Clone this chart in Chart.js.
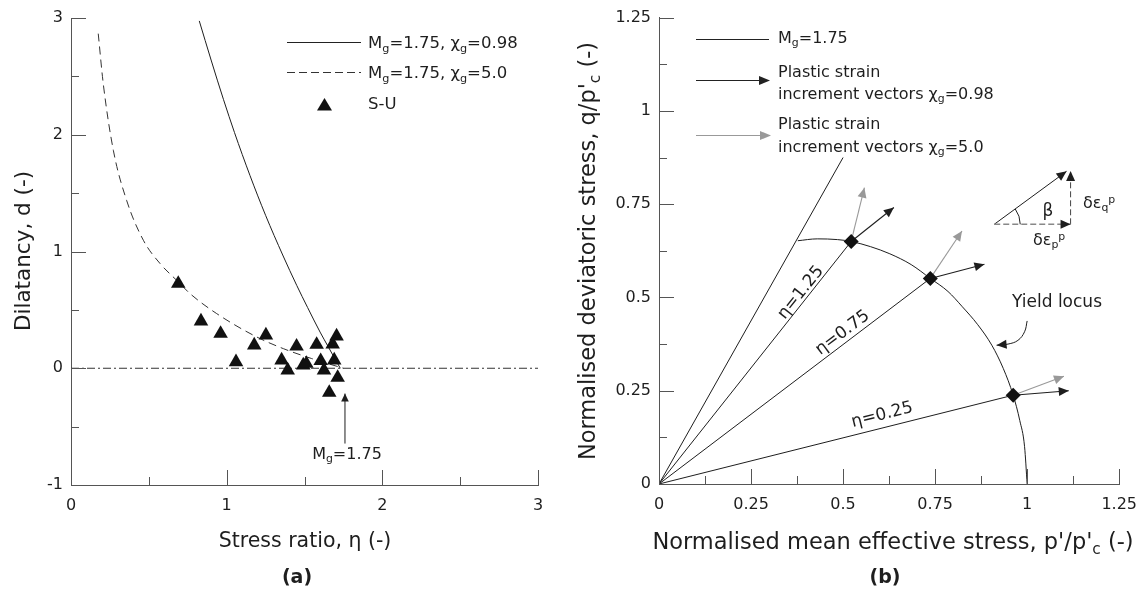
<!DOCTYPE html>
<html lang="en"><head><meta charset="utf-8"><title>Dilatancy · yield locus</title>
<script src="https://cdn.jsdelivr.net/npm/chart.js@4.4.1/dist/chart.umd.min.js"></script>
<style>
  * { box-sizing: border-box; }
  body { margin: 0; background: #fff; }
  #fig {
    position: relative; width: 1148px; height: 590px; overflow: hidden; background: #fff;
    font-family: "DejaVu Sans", Verdana, sans-serif; color: #1e1e1e;
  }
  canvas { position: absolute; top: 0; }
  #ca { left: 0; }
  #cb { left: 574px; }
  svg { position: absolute; left: 0; top: 0; }
  .t { position: absolute; white-space: nowrap; line-height: 1; font-size: 16px; transform: translateY(-50%); }
  .c { transform: translate(-50%, -50%); }
  .title { font-size: 20.5px; }
  .title-b { font-size: 22.5px; }
  .tag { font-size: 19px; font-weight: bold; }
  .eta { font-size: 17px; }
  sub, sup { font-size: 0.68em; vertical-align: baseline; position: relative; line-height: 0; }
  sub { top: 0.32em; }
  sup { top: -0.45em; }
</style></head>
<body>
<div id="fig">
  <canvas id="ca" width="574" height="590"></canvas>
  <canvas id="cb" width="574" height="590"></canvas>

  <!-- legend keys -->
  <svg width="1148" height="590">
    <line x1="287" y1="42.5" x2="361" y2="42.5" stroke="#222" stroke-width="1"/>
    <line x1="287" y1="72.5" x2="361" y2="72.5" stroke="#333" stroke-width="1" stroke-dasharray="8 4"/>
    <polygon points="324.5,98 332,110.5 317,110.5" fill="#111"/>
    <line x1="696" y1="39.5" x2="769" y2="39.5" stroke="#222" stroke-width="1"/>
    <line x1="696" y1="80.5" x2="760" y2="80.5" stroke="#222" stroke-width="1.2"/>
    <polygon points="770,80.5 759,76 759,85" fill="#222"/>
    <line x1="696" y1="135.5" x2="760" y2="135.5" stroke="#999" stroke-width="1.2"/>
    <polygon points="771,135.5 760,131 760,140" fill="#999"/>
  </svg>

  <!-- (a) -->
  <div class="t" style="left:368px;top:43px;font-size:16.5px">M<sub>g</sub>=1.75, χ<sub>g</sub>=0.98</div>
  <div class="t" style="left:368px;top:73px;font-size:16.5px">M<sub>g</sub>=1.75, χ<sub>g</sub>=5.0</div>
  <div class="t" style="left:368px;top:104px;font-size:16.5px">S-U</div>
  <div class="t c" style="left:347px;top:454px">M<sub>g</sub>=1.75</div>
  <div class="t c title" style="left:305px;top:540px">Stress ratio, η (-)</div>
  <div class="t title" style="left:23px;top:251px;font-size:21.5px;transform:translate(-50%,-50%) rotate(-90deg)">Dilatancy, d (-)</div>
  <div class="t c tag" style="left:297px;top:576px">(a)</div>

  <!-- (b) -->
  <div class="t" style="left:778px;top:38px">M<sub>g</sub>=1.75</div>
  <div class="t" style="left:778px;top:72px">Plastic strain</div>
  <div class="t" style="left:778px;top:94px">increment vectors χ<sub>g</sub>=0.98</div>
  <div class="t" style="left:778px;top:124px">Plastic strain</div>
  <div class="t" style="left:778px;top:147px">increment vectors χ<sub>g</sub>=5.0</div>
  <div class="t eta" style="left:800px;top:292px;transform:translate(-50%,-50%) rotate(-51.3deg)">η=1.25</div>
  <div class="t eta" style="left:842px;top:332px;transform:translate(-50%,-50%) rotate(-36.9deg)">η=0.75</div>
  <div class="t eta" style="left:882px;top:414px;transform:translate(-50%,-50%) rotate(-14deg)">η=0.25</div>
  <div class="t c" style="left:1057px;top:301px;font-size:17px">Yield locus</div>
  <div class="t c" style="left:1048px;top:210px;font-size:17px">β</div>
  <div class="t" style="left:1083px;top:203px">δε<sub>q</sub><sup>p</sup></div>
  <div class="t" style="left:1033px;top:240px">δε<sub>p</sub><sup>p</sup></div>
  <div class="t c title-b" style="left:893px;top:541px">Normalised mean effective stress, p'/p'<sub>c</sub> (-)</div>
  <div class="t title-b" style="left:587px;top:251px;transform:translate(-50%,-50%) rotate(-90deg)">Normalised deviatoric stress, q/p'<sub>c</sub> (-)</div>
  <div class="t c tag" style="left:885px;top:576px">(b)</div>
</div>

<script>
// ---- (a) dilatancy against stress ratio ----
const aXTicks = ['0', '1', '2', '3'];
const aYTicks = ['-1', '0', '1', '2', '3'];

const etaChi098 = [0.824, 0.90, 0.98, 1.05, 1.15, 1.25, 1.36, 1.45, 1.52, 1.60, 1.65, 1.70, 1.73];
const dChi098   = [2.975, 2.64, 2.30, 2.02, 1.65, 1.31, 0.97, 0.71, 0.52, 0.31, 0.19, 0.07, 0.00];

const etaChi50 = [0.175, 0.207, 0.272, 0.357, 0.465, 0.572, 0.689, 0.764, 0.936, 1.193, 1.364, 1.546, 1.75];
const dChi50   = [2.866, 2.44, 1.867, 1.439, 1.096, 0.897, 0.74, 0.64, 0.468, 0.268, 0.168, 0.083, 0.00];

// S-U test points
const etaSU = [0.689, 0.835, 0.961, 1.060, 1.177, 1.252, 1.353, 1.392, 1.449, 1.492, 1.512,
               1.578, 1.604, 1.625, 1.681, 1.706, 1.691, 1.713, 1.659];
const dSU   = [0.725, 0.403, 0.297, 0.054, 0.197, 0.283, 0.069, -0.017, 0.188, 0.026, 0.04,
               0.203, 0.063, -0.017, 0.206, 0.274, 0.069, -0.080, -0.208];

const zeroEta = [0, 3], zeroD = [0, 0];
const mgEta = [1.76, 1.76], mgD = [-0.645, -0.217];

// ---- (b) stress path, yield locus, strain increment vectors ----
const bTicks = ['0', '0.25', '0.5', '0.75', '1', '1.25'];

const mLineP = [0, 0.5], mLineQ = [0, 0.875];
const stateP = [0.522, 0.737, 0.962];          // η = 1.25, 0.75, 0.25
const stateQ = [0.650, 0.551, 0.238];

const locusP = [0.377, 0.43, 0.485, 0.522, 0.575, 0.627, 0.685, 0.737, 0.785, 0.824, 0.865, 0.904, 0.935, 0.962, 0.98, 0.993, 1.0];
const locusQ = [0.652, 0.657, 0.655, 0.650, 0.636, 0.617, 0.588, 0.551, 0.516, 0.475, 0.428, 0.372, 0.31, 0.238, 0.17, 0.10, 0.0];

const tipP098 = [0.638, 0.884, 1.113], tipQ098 = [0.741, 0.589, 0.250];
const tipP50  = [0.558, 0.823, 1.100], tipQ50  = [0.794, 0.678, 0.289];

const pointerP = [1.0, 0.993, 0.975, 0.948, 0.917];
const pointerQ = [0.437, 0.408, 0.385, 0.375, 0.372];

// β sketch: start, horizontal corner, top
const betaP = [0.9106, 1.118, 1.118, 1.107];
const betaQ = [0.696, 0.696, 0.839, 0.838];

const INK = '#1e1e1e', GREY = '#999', AXIS = '#555';
const FONT = { family: "'DejaVu Sans', Verdana, sans-serif", size: 16 };

const pts = (xs, ys) => xs.map((x, i) => ({ x, y: ys[i] }));
const line = (data, extra = {}) => ({
  data, showLine: true, pointRadius: 0, borderColor: INK, borderWidth: 1, fill: false, ...extra,
});

// Ticks point inward; the minor ones sit halfway between the labelled ones.
const inwardTicks = {
  id: 'inwardTicks',
  afterDraw(chart) {
    const { ctx, chartArea: a, scales: { x, y } } = chart;
    const marks = s => {
      const v = s.ticks.map(t => t.value);
      return [...v.map(t => [t, 15]), ...v.slice(1).map((t, i) => [(t + v[i]) / 2, 8])];
    };
    ctx.save();
    ctx.strokeStyle = AXIS;
    ctx.lineWidth = 1;
    ctx.beginPath();
    for (const [v, len] of marks(x)) {
      const px = Math.round(x.getPixelForValue(v)) + 0.5;
      ctx.moveTo(px, a.bottom); ctx.lineTo(px, a.bottom - len);
    }
    for (const [v, len] of marks(y)) {
      const py = Math.round(y.getPixelForValue(v)) + 0.5;
      ctx.moveTo(a.left, py); ctx.lineTo(a.left + len, py);
    }
    ctx.stroke();
    ctx.restore();
  },
};

// Filled head on the last point of any dataset that asks for one.
const arrowHeads = {
  id: 'arrowHeads',
  afterDatasetsDraw(chart) {
    const ctx = chart.ctx;
    chart.data.datasets.forEach((ds, i) => {
      if (!ds.arrow) return;
      const el = chart.getDatasetMeta(i).data;
      const tip = el[el.length - 1], from = el[el.length - 2];
      const [len, half] = ds.arrow;
      ctx.save();
      ctx.translate(tip.x, tip.y);
      ctx.rotate(Math.atan2(tip.y - from.y, tip.x - from.x));
      ctx.fillStyle = ds.headColor || ds.borderColor;
      ctx.beginPath();
      ctx.moveTo(0, 0); ctx.lineTo(-len, -half); ctx.lineTo(-len, half);
      ctx.closePath(); ctx.fill();
      ctx.restore();
    });
  },
};

// Angle mark for β between the horizontal and the increment vector.
const betaArc = {
  id: 'betaArc',
  afterDatasetsDraw(chart) {
    if (chart.canvas.id !== 'cb') return;
    const { ctx, scales: { x, y } } = chart;
    const ox = x.getPixelForValue(betaP[0]), oy = y.getPixelForValue(betaQ[0]);
    const ang = Math.atan2(y.getPixelForValue(betaQ[3]) - oy, x.getPixelForValue(betaP[3]) - ox);
    ctx.save();
    ctx.strokeStyle = INK; ctx.lineWidth = 1;
    ctx.beginPath(); ctx.arc(ox, oy, 26, ang, 0); ctx.stroke();
    ctx.restore();
  },
};

function axes(xMin, xMax, xStep, xLabels, yMin, yMax, yStep, yLabels, yWidth, xHeight) {
  const common = {
    type: 'linear',
    grid: { display: false, drawTicks: false },
    border: { display: true, color: AXIS, width: 1 },
  };
  return {
    x: {
      ...common, min: xMin, max: xMax,
      ticks: { stepSize: xStep, color: INK, font: FONT, padding: 11, maxRotation: 0,
               callback: (v, i) => xLabels[i] },
      afterFit: s => { s.height = xHeight; },
    },
    y: {
      ...common, min: yMin, max: yMax,
      ticks: { stepSize: yStep, color: INK, font: FONT, padding: 8,
               callback: (v, i) => yLabels[i] },
      afterFit: s => { s.width = yWidth; },
    },
  };
}

const baseOptions = {
  responsive: false, animation: false, devicePixelRatio: 1,
  plugins: { legend: { display: false }, tooltip: { enabled: false } },
};

new Chart(document.getElementById('ca'), {
  type: 'scatter',
  data: {
    datasets: [
      { data: pts(etaSU, dSU), pointStyle: 'triangle', pointRadius: 8.4, borderWidth: 0,
        backgroundColor: '#111', borderColor: '#111' },
      line(pts(mgEta, mgD), { arrow: [8, 3.8] }),
      line(pts(etaChi098, dChi098), { cubicInterpolationMode: 'monotone' }),
      line(pts(etaChi50, dChi50), { cubicInterpolationMode: 'monotone', borderColor: '#333', borderDash: [8, 5] }),
      line(pts(zeroEta, zeroD), { borderColor: '#333', borderDash: [8, 3, 2, 3] }),
    ],
  },
  options: {
    ...baseOptions,
    layout: { padding: { left: 0, right: 36, top: 18, bottom: 0 } },
    scales: axes(0, 3, 1, aXTicks, -1, 3, 1, aYTicks, 71, 105),
  },
  plugins: [inwardTicks, arrowHeads],
});

const vectors = (tp, tq, color) => stateP.map((p, i) =>
  line(pts([p, tp[i]], [stateQ[i], tq[i]]), { borderColor: color, arrow: [10, 4.5], borderWidth: 1.1 }));

new Chart(document.getElementById('cb'), {
  type: 'scatter',
  data: {
    datasets: [
      { data: pts(stateP, stateQ), pointStyle: 'rectRot', pointRadius: 7.5, borderWidth: 0,
        backgroundColor: '#111', borderColor: '#111' },
      ...vectors(tipP098, tipQ098, INK),
      ...vectors(tipP50, tipQ50, GREY),
      line(pts(mLineP, mLineQ)),
      ...stateP.map((p, i) => line(pts([0, p], [0, stateQ[i]]))),
      line(pts(locusP, locusQ), { cubicInterpolationMode: 'monotone' }),
      line(pts(pointerP, pointerQ), { tension: 0.4, arrow: [10, 4.5] }),
      line(pts(betaP.slice(0, 2), betaQ.slice(0, 2)), { borderColor: '#888', borderDash: [6, 3], borderWidth: 1.5, arrow: [10, 4.5], headColor: INK }),
      line(pts(betaP.slice(1, 3), betaQ.slice(1, 3)), { borderColor: '#444', borderDash: [6, 3], arrow: [10, 4.5], headColor: INK }),
      line(pts([betaP[0], betaP[3]], [betaQ[0], betaQ[3]]), { arrow: [10, 4.5] }),
    ],
  },
  options: {
    ...baseOptions,
    layout: { padding: { left: 0, right: 22, top: 17, bottom: 0 } },
    scales: axes(0, 1.25, 0.25, bTicks, 0, 1.25, 0.25, bTicks, 85, 106),
  },
  plugins: [inwardTicks, arrowHeads, betaArc],
});
</script>
</body></html>
